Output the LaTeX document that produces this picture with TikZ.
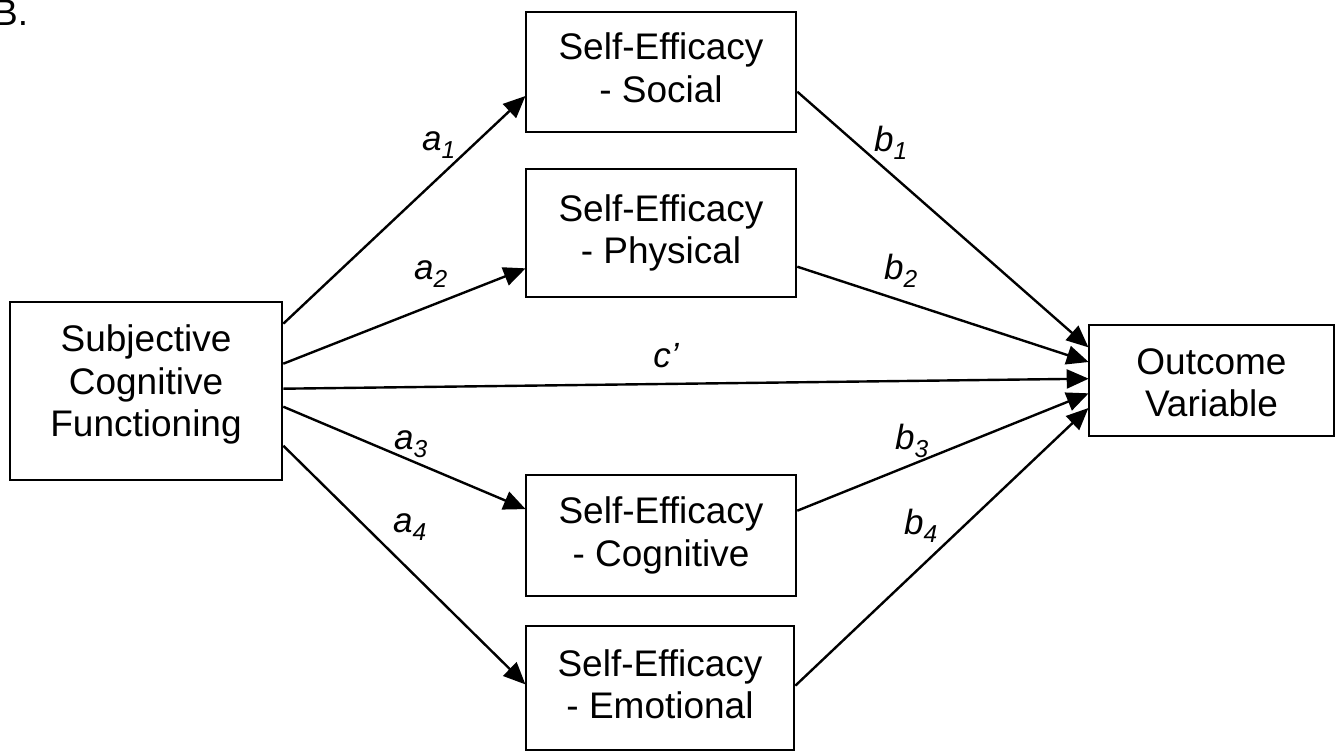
\documentclass[tikz,border=0pt]{standalone}
\usepackage{fontspec}
\setmainfont{Liberation Sans}
\usetikzlibrary{arrows.meta,calc}
\begin{document}
\begin{tikzpicture}[x=1pt,y=-1pt,
  box/.style={draw,line width=2.6pt,inner sep=0pt,align=center,text height=72pt,font=\fontsize{37}{42.5}\selectfont},
  arr/.style={line width=2.4pt,-{Triangle[length=22pt,width=19pt]},shorten >=-1pt},
  lab/.style={inner sep=0pt,font=\fontsize{35}{42}\selectfont\itshape}]
\useasboundingbox (0,0) rectangle (1338,752);
\node[anchor=base west,inner sep=0pt,font=\fontsize{37}{42}\selectfont] (title) at (-7,26) {B.};
\node[box,text height=114.5pt,text depth=23pt,minimum width=272pt,minimum height=178pt] (subj) at (146,391) {Subjective\\Cognitive\\Functioning};
\node[box,text depth=12pt,minimum width=270pt,minimum height=120pt] (soc) at (661,72) {Self-Efficacy\\- Social};
\node[box,text depth=11pt,minimum width=270pt,minimum height=128pt] (phy) at (661,233) {Self-Efficacy\\- Physical};
\node[box,text depth=11pt,minimum width=270pt,minimum height=121pt] (cog) at (661,535.5) {Self-Efficacy\\- Cognitive};
\node[box,text depth=11pt,minimum width=268pt,minimum height=124pt] (emo) at (660,688) {Self-Efficacy\\- Emotional};
\node[box,text depth=0pt,minimum width=245pt,minimum height=111pt] (out) at (1211.5,380.5) {Outcome\\Variable};
% a paths
\draw[arr] ($(subj.north east)+(0,23)$) -- ($(soc.north west)+(0,86)$);
\draw[arr] ($(subj.north east)+(0,63)$) -- ($(phy.north west)+(0,101)$);
\draw[arr] ($(subj.north east)+(0,88)$) -- ($(out.north west)+(0,55)$);
\draw[arr] ($(subj.north east)+(0,106)$) -- ($(cog.north west)+(0,35)$);
\draw[arr] ($(subj.north east)+(0,145)$) -- ($(emo.north west)+(0,59)$);
% b paths
\draw[arr] ($(soc.north east)+(0,81)$) -- ($(out.north west)+(0,23)$);
\draw[arr] ($(phy.north east)+(0,99)$) -- ($(out.north west)+(0,38)$);
\draw[arr] ($(cog.north east)+(0,37)$) -- ($(out.north west)+(0,70)$);
\draw[arr] ($(emo.north east)+(0,61)$) -- ($(out.north west)+(0,85)$);
% labels
\node[lab] (la1) at (439,145) {a\textsubscript{1}};
\node[lab] (la2) at (431,274) {a\textsubscript{2}};
\node[lab] (la3) at (411,444) {a\textsubscript{3}};
\node[lab] (la4) at (410,527) {a\textsubscript{4}};
\node[lab] (lb1) at (891,143) {b\textsubscript{1}};
\node[lab] (lb2) at (901,271) {b\textsubscript{2}};
\node[lab] (lb3) at (912,441) {b\textsubscript{3}};
\node[lab] (lb4) at (921,526) {b\textsubscript{4}};
\node[lab] (lc) at (666,356) {c’};
\end{tikzpicture}
\end{document}
